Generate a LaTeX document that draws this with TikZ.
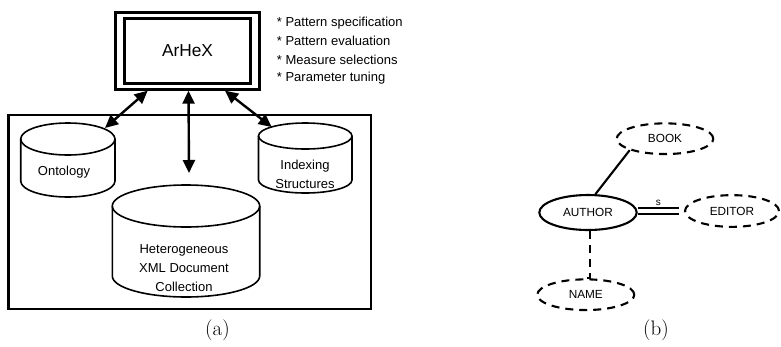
\documentclass[tikz,border=0pt]{standalone}
\usepackage{fontspec}
\newfontfamily\arial{Liberation Sans}
\usetikzlibrary{arrows.meta,shapes.geometric}
\begin{document}
\begin{tikzpicture}[x=1pt,y=-1pt,
  lbl/.style={font=\arial\fontsize{13}{19}\selectfont, align=center, inner sep=0pt},
  bullet/.style={font=\arial\fontsize{13}{15}\selectfont, anchor=west, inner sep=0pt},
  cyl/.style={line width=1.6pt},
  link/.style={line width=2.4pt, {Triangle[length=13pt,width=12pt]}-{Triangle[length=13pt,width=12pt]}},
  erent/.style={ellipse, draw, line width=2.1pt, inner sep=0pt, font=\arial\fontsize{11.8}{13}\selectfont},
  erdash/.style={erent, dash pattern=on 8pt off 6pt},
  captext/.style={font=\fontsize{21}{24}\selectfont, inner sep=0pt}
]
\useasboundingbox (0,0) rectangle (781,346);

% ---- (a) ----
\node[draw, line width=2.7pt, minimum width=143.6pt, minimum height=76.6pt, inner sep=0pt] (arhex) at (187.5,51) {};
\node[draw, line width=2.7pt, minimum width=126.4pt, minimum height=65pt, inner sep=0pt,
      font=\arial\fontsize{17.3}{20}\selectfont] (arhexin) at (187.5,50.8) {ArHeX};

\node[bullet] (b1) at (276.7,22.7) {* Pattern specification};
\node[bullet] (b2) at (276.7,41.0) {* Pattern evaluation};
\node[bullet] (b3) at (276.7,59.5) {* Measure selections};
\node[bullet] (b4) at (276.7,78.0) {* Parameter tuning};

\draw[line width=2.6pt] (8.3,115) rectangle (371,309);

% Ontology cylinder
\draw[cyl] (67.85,139) ellipse [x radius=47.15, y radius=16];
\draw[cyl] (20.7,139) -- (20.7,181) arc[start angle=180, end angle=0, x radius=47.15, y radius=16] -- (115,139);
\node[lbl] (onto) at (64,172) {Ontology};
\coordinate (ontotop) at (105,128);

% Indexing cylinder
\draw[cyl] (305.25,136) ellipse [x radius=46.75, y radius=13];
\draw[cyl] (258.5,136) -- (258.5,180) arc[start angle=180, end angle=0, x radius=46.75, y radius=13] -- (352,136);
\node[lbl] (index) at (305,174.5) {Indexing\\Structures};
\coordinate (indextop) at (271.7,127);

% Heterogeneous cylinder
\draw[cyl] (186,206) ellipse [x radius=73.7, y radius=21];
\draw[cyl] (112.3,206) -- (112.3,276) arc[start angle=180, end angle=0, x radius=73.7, y radius=21] -- (259.7,206);
\node[lbl] (hetero) at (184,268) {Heterogeneous\\XML Document\\Collection};
\coordinate (herotop) at (189,173);

\draw[link] ([xshift=-39.8pt]arhex.south) -- (ontotop);
\draw[link] ([xshift=1pt]arhex.south) -- (herotop);
\draw[link] ([xshift=37.5pt]arhex.south) -- (indextop);

\node[captext] (capa) at (217.5,330) {(a)};

% ---- (b) ----
\node[erdash, minimum width=96.6pt, minimum height=30.7pt] (book) at (665,138.7) {BOOK};
\node[erent, minimum width=97.4pt, minimum height=35pt] (author) at (588,212.5) {AUTHOR};
\node[erdash, minimum width=94pt, minimum height=31.7pt] (editor) at (732,211) {EDITOR};
\node[erdash, minimum width=97pt, minimum height=30.7pt] (name) at (585.8,294.7) {NAME};

\draw[line width=2.1pt] (book.198) -- (author.68);
\draw[line width=1.9pt, double, double distance=4.8pt] (author.east |- editor.west) -- ([xshift=-5pt]editor.west)
  node[midway, above=4.5pt, inner sep=0pt, font=\arial\fontsize{10}{12}\selectfont] (slbl) {s};
\draw[line width=2.1pt, dash pattern=on 8pt off 6pt] ([xshift=2pt]author.south) |- ([xshift=-4pt]name.north);

\node[captext] (capb) at (656,330) {(b)};
\end{tikzpicture}
\end{document}
